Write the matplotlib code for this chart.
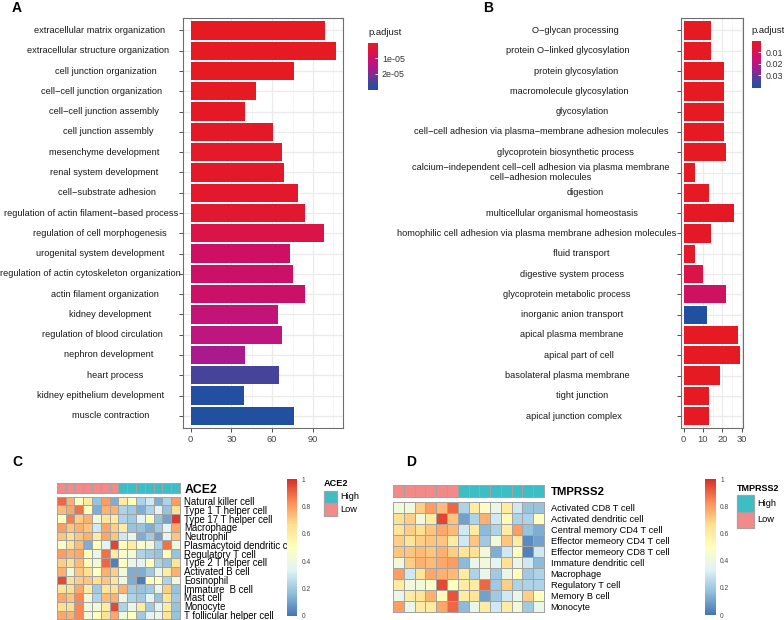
import numpy as np
import matplotlib
matplotlib.use('Agg')
import matplotlib.pyplot as plt
from matplotlib.colors import LinearSegmentedColormap, ListedColormap, Normalize
from matplotlib.cm import ScalarMappable
from matplotlib.patches import Rectangle

plt.rcParams['font.family'] = ['Liberation Sans', 'DejaVu Sans']

# ---------------- data ----------------
terms_a = ["extracellular matrix organization", "extracellular structure organization",
           "cell junction organization", "cell\u2212cell junction organization",
           "cell\u2212cell junction assembly", "cell junction assembly",
           "mesenchyme development", "renal system development", "cell\u2212substrate adhesion",
           "regulation of actin filament\u2212based process", "regulation of cell morphogenesis",
           "urogenital system development", "regulation of actin cytoskeleton organization",
           "actin filament organization", "kidney development", "regulation of blood circulation",
           "nephron development", "heart process", "kidney epithelium development",
           "muscle contraction"]
count_a = [99, 107, 76, 48, 40, 61, 67, 69, 79, 84, 98, 73, 75, 84, 64, 67, 40, 65, 39, 76]
padj_a = [2e-10, 2e-10, 5e-8, 3e-7, 6e-7, 9e-7, 1.2e-6, 1.4e-6, 1.6e-6, 2.5e-6, 6.1e-6,
          9.8e-6, 1.0e-5, 1.03e-5, 1.22e-5, 1.34e-5, 1.65e-5, 2.5e-5, 3.02e-5, 3.05e-5]

terms_b = ["O\u2212glycan processing", "protein O\u2212linked glycosylation", "protein glycosylation",
           "macromolecule glycosylation", "glycosylation",
           "cell\u2212cell adhesion via plasma\u2212membrane adhesion molecules",
           "glycoprotein biosynthetic process",
           "calcium\u2212independent cell\u2212cell adhesion via plasma membrane\ncell\u2212adhesion molecules",
           "digestion", "multicellular organismal homeostasis",
           "homophilic cell adhesion via plasma membrane adhesion molecules",
           "fluid transport", "digestive system process", "glycoprotein metabolic process",
           "inorganic anion transport", "apical plasma membrane", "apical part of cell",
           "basolateral plasma membrane", "tight junction", "apical junction complex"]
count_b = [14, 14, 21, 21, 21, 21, 22, 6, 13, 26, 14, 6, 10, 22, 12, 28, 29, 19, 13, 13]
padj_b = [2e-5, 3e-5, 5e-5, 5e-5, 5e-5, 8e-5, 1e-4, 4e-4, 6e-4, 1e-3, 1.2e-3, 1.5e-3,
          0.0085, 0.0125, 0.0415, 1e-6, 1e-7, 5e-5, 2e-4, 3e-4]

rows_c = ["Natural killer cell", "Type 1 T helper cell", "Type 17 T helper cell", "Macrophage",
          "Neutrophil", "Plasmacytoid dendritic cell", "Regulatory T cell", "Type 2 T helper cell",
          "Activated B cell", "Eosinophil", "Immature  B cell", "Mast cell", "Monocyte",
          "T follicular helper cell"]
groups_c = ["Low"] * 7 + ["High"] * 7
vals_c = [
    [0.90, 0.76, 0.50, 0.60, 0.18, 0.80, 0.13, 0.60, 0.50, 0.23, 0.30, 0.13, 0.23, 0.80],
    [0.74, 0.78, 0.88, 0.50, 0.13, 0.76, 0.76, 0.23, 0.20, 0.13, 0.23, 0.35, 0.18, 0.66],
    [0.50, 0.86, 0.70, 0.76, 0.42, 0.64, 0.60, 0.23, 0.20, 0.35, 0.50, 0.18, 0.10, 0.98],
    [0.80, 0.72, 0.76, 0.72, 0.30, 0.78, 0.70, 0.60, 0.18, 0.18, 0.13, 0.20, 0.35, 0.78],
    [0.72, 0.66, 0.72, 0.76, 0.60, 0.78, 0.72, 0.30, 0.38, 0.13, 0.20, 0.10, 0.35, 0.72],
    [0.47, 0.64, 0.74, 0.13, 0.50, 0.35, 0.96, 0.50, 0.60, 0.47, 0.42, 0.23, 0.88, 0.42],
    [0.80, 0.76, 0.78, 0.50, 0.38, 0.88, 0.60, 0.47, 0.42, 0.23, 0.20, 0.18, 0.50, 0.18],
    [0.70, 0.66, 0.74, 0.53, 0.42, 0.90, 0.03, 0.50, 0.38, 0.35, 0.50, 0.23, 0.18, 0.64],
    [0.76, 0.42, 0.72, 0.66, 0.50, 0.76, 0.70, 0.42, 0.13, 0.13, 0.20, 0.38, 0.60, 0.76],
    [0.95, 0.66, 0.70, 0.72, 0.66, 0.72, 0.64, 0.42, 0.13, 0.02, 0.50, 0.50, 0.23, 0.42],
    [0.64, 0.66, 0.78, 0.60, 0.20, 0.64, 0.66, 0.76, 0.20, 0.18, 0.20, 0.38, 0.70, 0.18],
    [0.78, 0.72, 0.84, 0.42, 0.23, 0.74, 0.76, 0.38, 0.23, 0.20, 0.35, 0.18, 0.64, 0.20],
    [0.66, 0.66, 0.84, 0.42, 0.42, 0.60, 0.95, 0.23, 0.38, 0.60, 0.20, 0.35, 0.60, 0.18],
    [0.78, 0.76, 0.84, 0.42, 0.50, 0.66, 0.78, 0.42, 0.50, 0.20, 0.35, 0.38, 0.64, 0.18],
]

rows_d = ["Activated CD8 T cell", "Activated dendritic cell", "Central memory CD4 T cell",
          "Effector memeory CD4 T cell", "Effector memeory CD8 T cell", "Immature dendritic cell",
          "Macrophage", "Regulatory T cell", "Memory B cell", "Monocyte"]
groups_d = ["Low"] * 6 + ["High"] * 8
vals_d = [
    [0.42, 0.42, 0.70, 0.80, 0.74, 0.90, 0.23, 0.60, 0.47, 0.38, 0.60, 0.30, 0.18, 0.18],
    [0.66, 0.70, 0.42, 0.60, 0.96, 0.72, 0.10, 0.23, 0.76, 0.30, 0.53, 0.23, 0.23, 0.50],
    [0.64, 0.70, 0.66, 0.72, 0.78, 0.74, 0.30, 0.60, 0.16, 0.23, 0.60, 0.80, 0.18, 0.13],
    [0.70, 0.64, 0.70, 0.72, 0.72, 0.60, 0.30, 0.72, 0.20, 0.42, 0.72, 0.60, 0.05, 0.10],
    [0.72, 0.72, 0.74, 0.72, 0.76, 0.70, 0.64, 0.66, 0.42, 0.13, 0.30, 0.50, 0.03, 0.30],
    [0.42, 0.70, 0.76, 0.74, 0.78, 0.80, 0.16, 0.38, 0.42, 0.35, 0.66, 0.38, 0.30, 0.16],
    [0.80, 0.30, 0.64, 0.78, 0.76, 0.74, 0.60, 0.23, 0.38, 0.20, 0.38, 0.50, 0.20, 0.23],
    [0.60, 0.42, 0.42, 0.47, 0.95, 0.50, 0.60, 0.60, 0.90, 0.20, 0.70, 0.23, 0.23, 0.23],
    [0.38, 0.60, 0.64, 0.76, 0.53, 0.93, 0.60, 0.64, 0.10, 0.20, 0.30, 0.38, 0.70, 0.50],
    [0.80, 0.38, 0.60, 0.60, 0.78, 0.90, 0.16, 0.38, 0.60, 0.30, 0.60, 0.42, 0.20, 0.38],
]

# ---------------- styling ----------------
W, H = 784, 620
fig = plt.figure(figsize=(W / 100, H / 100), dpi=100)


def rect(x0, y0, x1, y1):
    return [x0 / W, 1 - y1 / H, (x1 - x0) / W, (y1 - y0) / H]


p_cmap = LinearSegmentedColormap.from_list("padj", [
    (0.0, "#E61A22"), (0.2, "#DA1448"), (0.33, "#CC1068"), (0.45, "#BE1580"),
    (0.55, "#A81A8E"), (0.82, "#46439B"), (1.0, "#2150A0")])
hm_cmap = LinearSegmentedColormap.from_list("rdylbu", [
    "#4575B4", "#91BFDB", "#E0F3F8", "#FFFFBF", "#FEE090", "#FC8D59", "#D73027"])
ann_colors = {"High": "#3DBDC4", "Low": "#F28A8A"}


def bar_panel(box, terms, counts, padj, major, minor, cbox, cticks, ctlabels, label_right, h=0.7):
    ax = fig.add_axes(rect(*box))
    n = len(terms)
    y = np.arange(n)
    norm = Normalize(vmin=min(padj), vmax=max(padj))
    ax.barh(y, counts, height=0.9, color=p_cmap(norm(np.array(padj))), zorder=2)
    span = max(counts)
    ax.set_xlim(-0.05 * span, 1.05 * span)
    ax.set_ylim(n - 1 + 0.6, -0.6)
    ax.set_xticks(major)
    ax.set_xticks(minor, minor=True)
    ax.set_yticks(y)
    ax.set_yticklabels([])
    ax.grid(True, which='major', color='#EBEBEB', lw=0.9)
    ax.grid(True, which='minor', axis='x', color='#F3F3F3', lw=0.5)
    ax.tick_params(which='minor', length=0)
    ax.tick_params(which='major', length=2.75, width=0.6, color='#333333',
                   labelsize=6.7, labelcolor='#444444', pad=2.2)
    for s in ax.spines.values():
        s.set_color('#6E6E6E')
        s.set_linewidth(0.8)
    ax.set_axisbelow(True)

    texts = []
    for lab, yy in zip(terms, y):
        t = ax.text(0, yy, lab, transform=ax.get_yaxis_transform(), ha='left', va='center',
                    fontsize=6.7, color='#1A1A1A', multialignment='center', clip_on=False)
        texts.append(t)
    r = fig.canvas.get_renderer()
    widths = [t.get_window_extent(r).width for t in texts]
    Wmax = max(widths)
    bb = ax.get_window_extent(r)
    for t, w in zip(texts, widths):
        left = label_right - Wmax + h * (Wmax - w)
        t.set_x((left - bb.x0) / bb.width)

    cax = fig.add_axes(rect(*cbox))
    cb = fig.colorbar(ScalarMappable(norm=norm, cmap=p_cmap), cax=cax)
    cb.outline.set_visible(False)
    cax.invert_yaxis()
    cb.set_ticks(cticks)
    cb.set_ticklabels(ctlabels)
    cax.tick_params(length=2, width=0.6, color='white', direction='in',
                    labelsize=6.4, labelcolor='#333333', pad=3)
    fig.text(cbox[0] / W, 1 - (cbox[1] - 10) / H, "p.adjust", fontsize=6.8,
             color='#1A1A1A', va='center', ha='left')
    return ax


bar_panel((183.3, 18.3, 343.3, 428.0), terms_a, count_a, padj_a,
          [0, 30, 60, 90], [15, 45, 75, 105], (368.3, 42.7, 377.7, 90.0),
          [1e-5, 2e-5], ["1e-05", "2e-05"], 180.5)
bar_panel((680.7, 18.3, 742.7, 428.3), terms_b, count_b, padj_b,
          [0, 10, 20, 30], [5, 15, 25], (751.7, 40.7, 761.0, 88.3),
          [0.01, 0.02, 0.03], ["0.01", "0.02", "0.03"], 676.5)


def heatmap(ann_box, hm_box, vals, rows, groups, title, fs, pad, tfs, cbox, leg):
    data = np.array(vals)
    nr, nc = data.shape
    aax = fig.add_axes(rect(*ann_box))
    codes = np.array([[0 if g == "High" else 1 for g in groups]])
    m = aax.pcolormesh(codes, cmap=ListedColormap([ann_colors["High"], ann_colors["Low"]]),
                       vmin=0, vmax=1, edgecolors='#A3A3A3', linewidth=0.7)
    m.set_clip_on(False)
    aax.set_xlim(0, nc)
    aax.set_ylim(1, 0)
    aax.set_xticks([])
    aax.yaxis.tick_right()
    aax.set_yticks([0.5])
    aax.set_yticklabels([title], fontsize=tfs, fontweight='bold')
    aax.tick_params(axis='y', length=0, pad=pad)
    for s in aax.spines.values():
        s.set_visible(False)

    hax = fig.add_axes(rect(*hm_box))
    mesh = hax.pcolormesh(data, cmap=hm_cmap, vmin=0, vmax=1, edgecolors='#A3A3A3', linewidth=0.7)
    mesh.set_clip_on(False)
    hax.set_xlim(0, nc)
    hax.set_ylim(nr, 0)
    hax.set_xticks([])
    hax.yaxis.tick_right()
    hax.set_yticks(np.arange(nr) + 0.5)
    hax.set_yticklabels(rows, fontsize=fs)
    hax.tick_params(axis='y', length=0, pad=pad)
    for s in hax.spines.values():
        s.set_visible(False)

    cax = fig.add_axes(rect(*cbox))
    cb = fig.colorbar(mesh, cax=cax)
    cb.outline.set_visible(False)
    cb.set_ticks([0, 0.2, 0.4, 0.6, 0.8, 1])
    cb.set_ticklabels(["0", "0.2", "0.4", "0.6", "0.8", "1"])
    cax.tick_params(length=0, labelsize=4.8, labelcolor='#444444', pad=3)

    lx, ly_title, kw, kh, ky0, lfs, ltfs = leg
    fig.text(lx / W, 1 - ly_title / H, title, fontsize=ltfs, fontweight='bold',
             va='center', ha='left')
    for i, g in enumerate(["High", "Low"]):
        y0 = ky0 + i * kh
        fig.add_artist(Rectangle((lx / W, 1 - (y0 + kh) / H), kw / W, kh / H,
                                 transform=fig.transFigure, facecolor=ann_colors[g],
                                 edgecolor='#A3A3A3', linewidth=0.9))
        fig.text((lx + kw + 2.5) / W, 1 - (y0 + kh / 2) / H, g, fontsize=lfs,
                 va='center', ha='left')


heatmap((56.7, 483.3, 180.0, 493.3), (56.7, 496.7, 180.0, 619.3), vals_c, rows_c, groups_c,
        "ACE2", 6.9, 3.1, 8.8, (286.7, 479.3, 297.3, 616.0),
        (324.0, 484.0, 13.3, 12.5, 490.7, 6.7, 6.6))
heatmap((393.0, 485.0, 544.0, 496.7), (393.0, 501.7, 544.0, 612.3), vals_d, rows_d, groups_d,
        "TMPRSS2", 6.7, 4.8, 8.2, (705.0, 479.3, 716.0, 615.0),
        (736.7, 488.3, 17.6, 16.5, 495.0, 6.7, 6.5))

for lab, x, y in [("A", 11.7, 8.0), ("B", 483.3, 8.0), ("C", 12.0, 461.7), ("D", 406.0, 461.7)]:
    fig.text(x / W, 1 - y / H, lab, fontsize=10, fontweight='bold', va='center', ha='left')

fig.savefig("out.png", dpi=100)
